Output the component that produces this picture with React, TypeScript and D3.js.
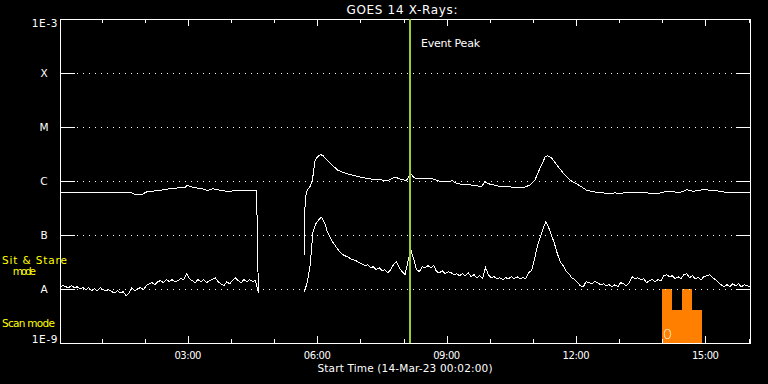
import React from "react";
import * as d3 from "d3";

// ---------- data ----------
// time in minutes since 14-Mar-23 00:00, flux in W/m^2
const timeDomain = [2, 962];
const hourTicks = [60, 120, 180, 240, 300, 360, 420, 480, 540, 600, 660, 720, 780, 840, 900, 960];
const majorTicks = [180, 360, 540, 720, 900];
const majorLabels = ["03:00", "06:00", "09:00", "12:00", "15:00"];

const levelValues = [1e-8, 1e-7, 1e-6, 1e-5, 1e-4];
const levelLabels = ["A", "B", "C", "M", "X"];

// long channel (1-8 A), before and after the data gap
const upperA: [number, number][] = [[2,6.15e-7],[101,6.15e-7],[105,5.74e-7],[117,5.74e-7],[123,6.34e-7],[141,6.7e-7],[155,7.19e-7],[169,7.52e-7],[176,7.6e-7],[179,8.3e-7],[186,7.74e-7],[193,7.41e-7],[201,7.11e-7],[207,6.7e-7],[215,7.19e-7],[225,6.7e-7],[239,6.34e-7],[243,6.7e-7],[252,6.61e-7],[266,6.81e-7],[275,6.7e-7],[276,2.82e-7],[278,8.5e-9]];
const upperB: [number, number][] = [[342,4.3e-8],[343,4.19e-7],[345,6.43e-7],[350,7.94e-7],[353,9.83e-7],[355,1.62e-6],[357,2.48e-6],[361,2.86e-6],[365,3.07e-6],[368,2.94e-6],[373,2.48e-6],[380,2.0e-6],[389,1.57e-6],[398,1.41e-6],[412,1.25e-6],[426,1.14e-6],[440,1.06e-6],[459,1.03e-6],[468,1.19e-6],[477,1.06e-6],[484,1.03e-6],[490,1.37e-6],[495,1.14e-6],[500,1.09e-6],[521,1.09e-6],[531,9.8e-7],[545,9.8e-7],[547,1.03e-6],[554,8.9e-7],[572,8.5e-7],[589,7.9e-7],[593,9.8e-7],[598,8.9e-7],[614,7.9e-7],[633,7.7e-7],[649,7.7e-7],[656,8.5e-7],[663,1.06e-6],[667,1.41e-6],[672,2.0e-6],[677,2.78e-6],[680,2.94e-6],[686,2.67e-6],[693,2.0e-6],[702,1.41e-6],[712,1.03e-6],[725,8.2e-7],[735,6.7e-7],[749,6.15e-7],[772,5.8e-7],[774,6.2e-7],[777,5.8e-7],[795,6.25e-7],[818,6.15e-7],[823,5.8e-7],[832,5.8e-7],[846,6.43e-7],[865,6.15e-7],[874,6.9e-7],[883,6.43e-7],[897,6.9e-7],[911,6.7e-7],[930,6.15e-7],[962,6.15e-7]];

// short channel (0.5-4 A), 4-minute cadence, in units of 1e-8 W/m^2
const LOWER_UNIT = 1e-8;
const CADENCE = 4;
const lowerAStart = 2;
const lowerA = [1.10,1.15,1.10,1.06,1.15,1.06,1.10,1.01,1.06,0.97,1.06,0.93,1.01,0.93,1.06,0.97,0.93,0.97,0.89,0.85,0.93,0.85,0.89,0.75,0.85,1.06,0.93,1.01,1.06,0.97,1.15,1.25,1.31,1.20,1.37,1.43,1.31,1.49,1.37,1.49,1.37,1.43,1.55,1.49,1.92,1.55,1.43,1.31,1.49,1.37,1.49,1.31,1.43,1.49,1.62,1.37,1.25,1.15,1.37,1.25,1.43,1.62,1.43,1.31,1.49,1.37,1.49,1.37,1.43,0.85];
const lowerBStart = 342;
const lowerB = [0.90,1.31,2.70,11.5,16.2,19.2,21.4,17.0,11.5,8.95,7.22,6.07,5.12,4.50,4.14,3.96,3.64,3.49,3.34,3.07,2.94,2.70,2.82,2.48,2.59,2.28,2.48,2.18,2.28,2.00,2.28,2.82,3.20,2.48,2.09,1.84,3.20,5.35,3.64,2.28,2.09,2.59,2.48,2.70,2.48,2.70,2.09,2.00,2.18,1.92,2.09,2.00,1.84,1.92,1.76,1.92,1.76,2.00,1.69,1.84,1.62,1.76,1.55,2.48,1.84,1.62,1.69,1.55,1.62,1.49,1.62,1.55,1.69,1.55,1.69,1.55,1.62,1.55,2.00,2.18,3.49,6.07,8.95,13.1,17.6,13.6,9.7,6.9,4.5,3.2,2.7,2.18,1.92,1.62,1.49,1.31,1.15,1.10,1.37,1.31,1.25,1.37,1.31,1.20,1.25,1.15,1.20,1.10,1.20,1.10,1.31,1.25,1.15,1.31,1.69,1.55,1.62,1.49,1.55,1.31,1.43,1.49,1.37,1.49,1.43,1.76,1.84,1.69,1.76,1.55,1.69,1.55,1.84,1.92,1.62,1.76,1.55,1.62,1.49,1.69,1.76,1.84,1.62,1.49,1.31,1.20,1.10,1.20,1.10,1.25,1.15,1.25,1.10,1.20,1.15,1.10];

// instrument mode bars (start, end, level)
const modeStarts = [840, 854, 867, 881];
const modeEnds = [854, 867, 881, 895];
const modeLevels = [1e-8, 4.1e-9, 1e-8, 4.1e-9];

const eventPeak = 489; // 08:09

const W = 768, H = 384;
const L = 60, R = 750, T = 19, B = 343;
const FONT = "'DejaVu Sans', sans-serif";

export default function App() {
  const x = d3.scaleLinear().domain(timeDomain).range([L, R]);
  const y = d3.scaleLog().domain([1e-9, 1e-3]).range([B, T]);
  const line = d3.line<[number, number]>().x((d) => x(d[0])).y((d) => y(d[1]));

  const toSeries = (start: number, vals: number[]): [number, number][] =>
    vals.map((v, i) => [start + i * CADENCE, v * LOWER_UNIT]);

  const px = (v: number) => Math.round(v) + 0.5;

  return (
    <svg width={W} height={H} style={{ position: "absolute", left: 0, top: 0, display: "block", background: "#000" }}>
      <rect x={0} y={0} width={W} height={H} fill="#000" />

      {/* mode bars */}
      {modeStarts.map((s, i) => (
        <rect key={"m" + i} x={x(s)} y={y(modeLevels[i])} width={x(modeEnds[i]) - x(s)} height={y(1e-9) - y(modeLevels[i])} fill="#ff8000" shapeRendering="crispEdges" />
      ))}
      <text x={x(modeStarts[0]) + 1} y={y(1e-9) - 4} fill="#fff" fontFamily={FONT} fontSize={14} textLength={8.5} lengthAdjust="spacingAndGlyphs" fontWeight={200}>O</text>

      {/* grid lines */}
      {levelValues.map((v, i) => {
        const yy = px(y(v));
        return (
          <g key={"g" + i} shapeRendering="crispEdges">
            <line x1={L} x2={L + 15} y1={yy} y2={yy} stroke="#fff" />
            <line x1={L + 17} x2={R - 14} y1={yy} y2={yy} stroke="#fff" strokeDasharray="1 5" />
            <line x1={R - 14} x2={R} y1={yy} y2={yy} stroke="#fff" />
          </g>
        );
      })}

      {/* frame */}
      <rect x={L + 0.5} y={T + 0.5} width={R - L} height={B - T} fill="none" stroke="#fff" shapeRendering="crispEdges" />

      {/* time ticks */}
      {hourTicks.map((t) => {
        const major = majorTicks.includes(t);
        const xx = px(x(t));
        return (
          <g key={"t" + t} shapeRendering="crispEdges">
            <line x1={xx} x2={xx} y1={B} y2={B - (major ? 7 : 4)} stroke="#fff" />
            <line x1={xx} x2={xx} y1={T} y2={T + (major ? 7 : 4)} stroke="#fff" />
          </g>
        );
      })}
      {majorTicks.map((t, i) => (
        <text key={"tl" + t} x={x(t)} y={358.5} fill="#fff" fontFamily={FONT} fontSize={10} textAnchor="middle" textLength={27}>{majorLabels[i]}</text>
      ))}

      {/* data */}
      <g fill="none" stroke="#fff" strokeWidth={1} shapeRendering="crispEdges">
        <path d={line(upperA) || ""} />
        <path d={line(upperB) || ""} />
        <path d={line(toSeries(lowerAStart, lowerA)) || ""} />
        <path d={line(toSeries(lowerBStart, lowerB)) || ""} />
      </g>

      {/* event peak */}
      <rect x={Math.round(x(eventPeak)) - 1} y={T} width={2} height={B - T} fill="#9acd32" />
      <text x={x(eventPeak) + 11} y={47} fill="#fff" fontFamily={FONT} fontSize={11} textLength={59}>Event Peak</text>

      {/* y labels */}
      {levelValues.map((v, i) => (
        <text key={"yl" + i} x={44} y={y(v) + 4} fill="#fff" fontFamily={FONT} fontSize={10.5} textAnchor="middle">{levelLabels[i]}</text>
      ))}
      <text x={57.5} y={26.7} fill="#fff" fontFamily={FONT} fontSize={10.5} textAnchor="end" textLength={25.7}>1E-3</text>
      <text x={57.5} y={343.3} fill="#fff" fontFamily={FONT} fontSize={10.5} textAnchor="end" textLength={25.7}>1E-9</text>

      <text x={2} y={263.5} fill="#ffff00" fontFamily={FONT} fontSize={10.5} textLength={65}>Sit &amp; Stare</text>
      <text x={12.7} y={275} fill="#ffff00" fontFamily={FONT} fontSize={10.5} textLength={23.3}>mode</text>
      <text x={2} y={327} fill="#ffff00" fontFamily={FONT} fontSize={10.5} textLength={53}>Scan mode</text>

      {/* titles */}
      <text x={402} y={14} fill="#fff" fontFamily={FONT} fontSize={12} textAnchor="middle" textLength={111}>GOES 14 X-Rays:</text>
      <text x={405} y={372} fill="#fff" fontFamily={FONT} fontSize={10.5} textAnchor="middle" textLength={175}>Start Time (14-Mar-23 00:02:00)</text>
    </svg>
  );
}
